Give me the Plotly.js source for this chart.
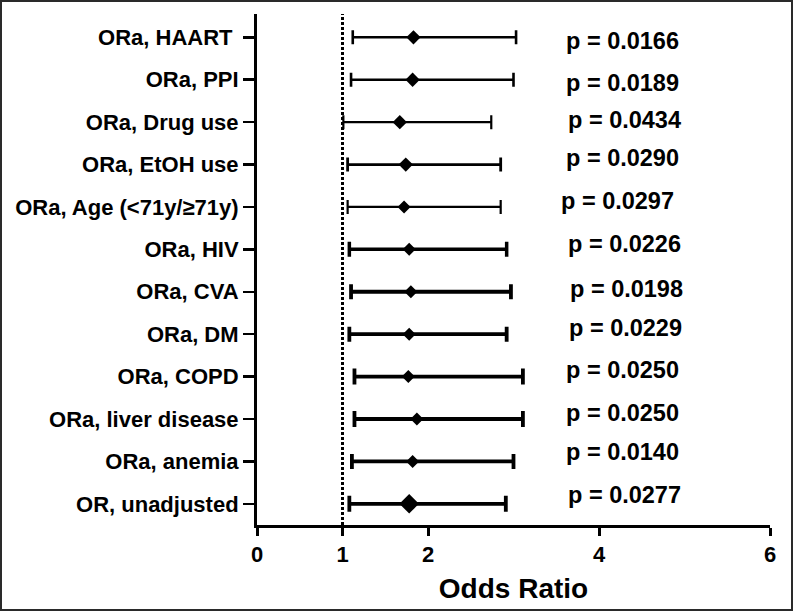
<!DOCTYPE html>
<html>
<head>
<meta charset="utf-8">
<script src="https://cdn.plot.ly/plotly-3.0.1.min.js"></script>
<style>
    body { margin: 0; background: #fff; }
    #wrap { position: relative; width: 793px; height: 611px; }
    #chartDiv { width: 793px; height: 611px; }
    #frame { position: absolute; left: 0; top: 0; width: 793px; height: 611px;
             box-sizing: border-box; border: 2px solid #2a2a2a; pointer-events: none; }
</style>
</head>
<body>
<div id="wrap">
    <div id="chartDiv"></div>
    <div id="frame"></div>
</div>
<script>
// forest plot of odds ratios, rows listed top to bottom
var labels = ['ORa, HAART\u00a0', 'ORa, PPI', 'ORa, Drug use', 'ORa, EtOH use',
    'ORa, Age (&lt;71y/≥71y)', 'ORa, HIV', 'ORa, CVA', 'ORa, DM', 'ORa, COPD',
    'ORa, liver disease', 'ORa, anemia', 'OR, unadjusted'];
var orVal = [1.83, 1.82, 1.67, 1.74, 1.72, 1.78, 1.80, 1.78, 1.77, 1.87, 1.82, 1.78];
var ciLow = [1.12, 1.10, 1.01, 1.06, 1.06, 1.08, 1.10, 1.08, 1.14, 1.14, 1.11, 1.08];
var ciHigh = [3.03, 3.00, 2.74, 2.85, 2.85, 2.92, 2.97, 2.92, 3.11, 3.11, 3.00, 2.91];
var pVals = ['0.0166', '0.0189', '0.0434', '0.0290', '0.0297', '0.0226',
    '0.0198', '0.0229', '0.0250', '0.0250', '0.0140', '0.0277'];
var xTicks = [0, 1, 2, 4, 6];

// look of each row (line weight, cap half width, diamond size)
var lineW = [2.6, 2.6, 2.2, 2.8, 2.2, 3.5, 3.8, 3.8, 3.8, 3.8, 3.8, 3.8];
var capW = [7, 7, 7, 7, 7, 7.5, 7.5, 7.5, 8, 8, 7.5, 8];
var dSize = [11, 11, 11, 11, 10, 10, 10, 10, 10, 10, 10, 15];
// little nudges of the p value labels, px
var pShiftY = [-4, -3, 2, 7, 6, 5, 3, 6, 7, 6, 9, 9];
var pShiftX = [0, 0, 2, 0, -5, 2, 4, 3, 0, 0, 0, 2];

var boldFont = {family: 'Liberation Sans, Arial, sans-serif', color: '#000', weight: 700};

var data = [];
for (var i = 0; i < labels.length; i++) {
    data.push({
        x: [orVal[i]],
        y: [labels[i]],
        type: 'scatter',
        mode: 'markers',
        marker: {symbol: 'diamond', size: dSize[i], color: '#000'},
        error_x: {
            type: 'data',
            symmetric: false,
            array: [ciHigh[i] - orVal[i]],
            arrayminus: [orVal[i] - ciLow[i]],
            color: '#000',
            thickness: lineW[i],
            width: capW[i]
        },
        showlegend: false,
        hoverinfo: 'x+y'
    });
}

var annots = [];
for (var j = 0; j < pVals.length; j++) {
    annots.push({
        x: 3.59, y: j, xref: 'x', yref: 'y',
        xanchor: 'left', yanchor: 'middle',
        text: 'p = ' + pVals[j],
        showarrow: false,
        xshift: pShiftX[j], yshift: pShiftY[j],
        font: Object.assign({size: 23.5}, boldFont)
    });
}

var layout = {
    width: 793, height: 611,
    margin: {l: 257, r: 23, t: 14, b: 86},
    paper_bgcolor: '#fff', plot_bgcolor: '#fff',
    xaxis: {
        range: [0, 6],
        tickvals: xTicks,
        ticktext: xTicks.map(String),
        ticks: 'outside', ticklen: 8, tickwidth: 3, tickcolor: '#000',
        showline: true, linewidth: 3, linecolor: '#000',
        showgrid: false, zeroline: false,
        tickfont: Object.assign({size: 22}, boldFont),
        title: {text: 'Odds Ratio', font: Object.assign({size: 28}, boldFont), standoff: 12}
    },
    yaxis: {
        type: 'category',
        categoryarray: labels,
        range: [11.5, -0.55],
        ticks: 'outside', ticklen: 11, tickwidth: 2.5, tickcolor: '#000',
        showline: true, linewidth: 3, linecolor: '#000',
        showgrid: false, zeroline: false,
        tickfont: Object.assign({size: 22}, boldFont)
    },
    shapes: [{ // reference line at OR = 1
        type: 'line', xref: 'x', yref: 'paper',
        x0: 1, x1: 1, y0: 0, y1: 1,
        line: {color: '#000', width: 3, dash: '3px,2px'}
    }],
    annotations: annots
};

Plotly.newPlot('chartDiv', data, layout, {staticPlot: true});
</script>
</body>
</html>
